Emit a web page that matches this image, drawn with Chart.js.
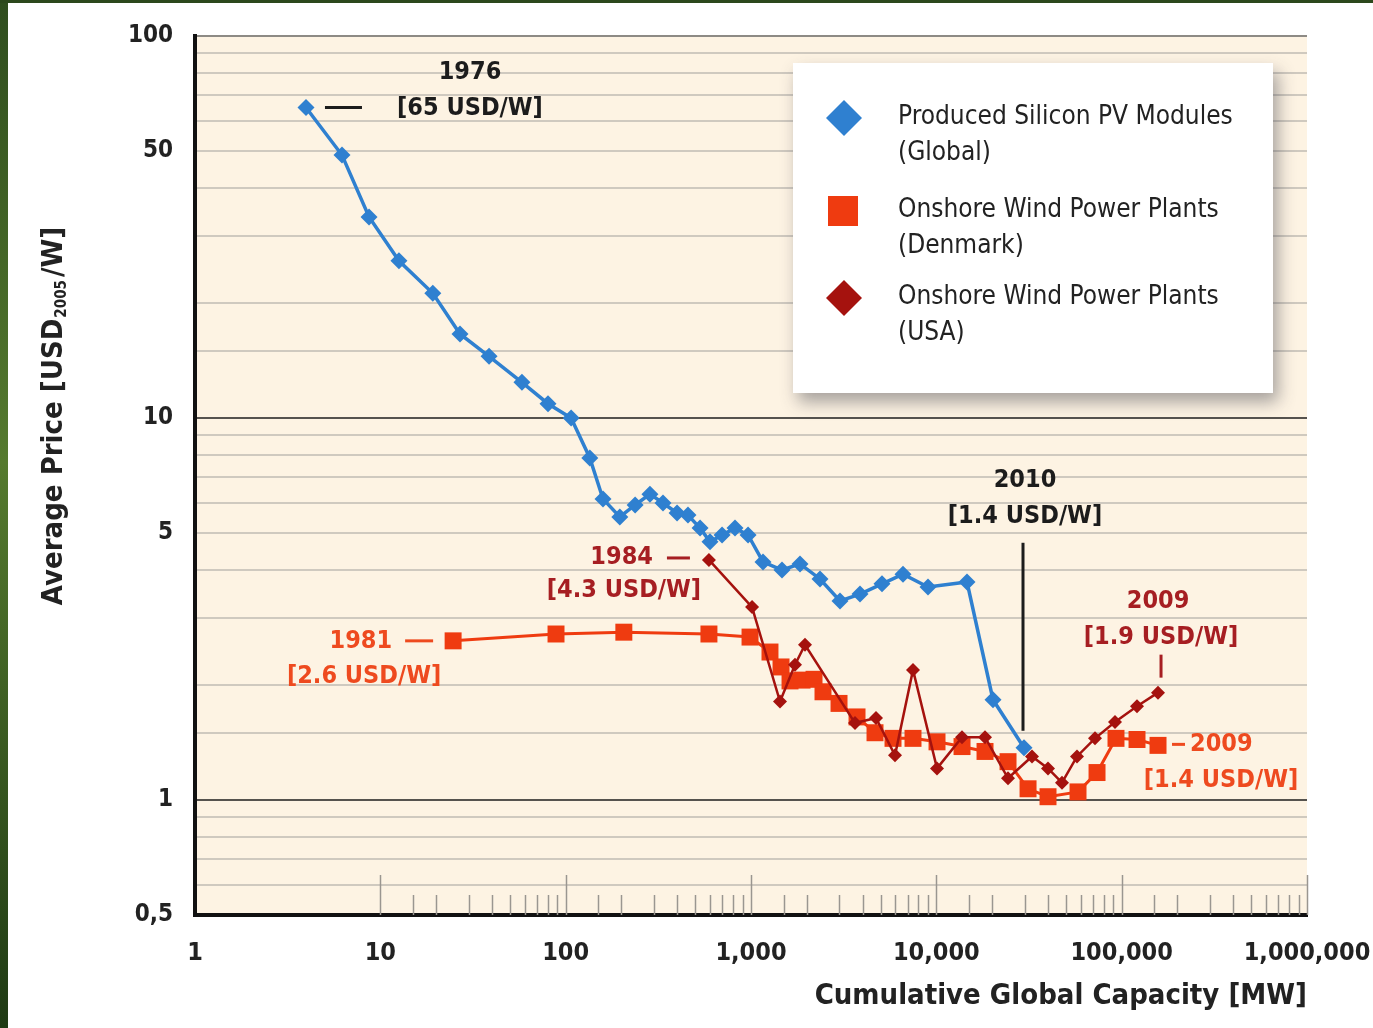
<!DOCTYPE html>
<html>
<head>
<meta charset="utf-8">
<script src="https://cdn.jsdelivr.net/npm/chart.js@4.4.1/dist/chart.umd.min.js"></script>
<style>
  html, body { margin: 0; padding: 0; background: #fff; }
  #wrap { position: relative; width: 1373px; height: 1028px; overflow: hidden; }
  #edgeLeft { position: absolute; left: 0; top: 0; width: 8px; height: 1028px;
              background: linear-gradient(#2f4d1e, #557a2e 45%, #1f3a14); }
  #edgeTop { position: absolute; left: 0; top: 0; width: 1373px; height: 3px; background: #2c481c; }
</style>
</head>
<body>
<div id="wrap">
  <canvas id="learningChart" width="1373" height="1028"></canvas>
  <div id="edgeLeft"></div>
  <div id="edgeTop"></div>
</div>
<script>
// Valeurs (capacité cumulée en MW, prix en USD2005/W)
const pvCapacity = [3.97, 6.21, 8.69, 12.6, 19.2, 26.9, 38.6, 58.1, 80.3, 107, 135, 159, 196, 237, 285, 335, 399, 457,
                    531, 601, 698, 820, 964, 1161, 1470, 1838, 2357, 3022, 3875, 5093, 6610, 9019, 14640, 20220, 29720];
const pvPrice = [65, 48.8, 33.6, 25.8, 21.2, 16.6, 14.5, 12.4, 10.9, 10.0, 7.86, 6.14, 5.51, 5.92, 6.32, 5.99, 5.64, 5.57,
                 5.15, 4.74, 4.94, 5.15, 4.94, 4.20, 4.00, 4.15, 3.79, 3.32, 3.46, 3.68, 3.90, 3.61, 3.72, 1.83, 1.37];

const dkCapacity = [24.7, 88.7, 206, 593, 988, 1266, 1452, 1624, 1885, 2188, 2446, 2985, 3733, 4668, 5838, 7484,
                    10085, 13760, 18310, 24370, 31250, 40050, 58140, 73630, 93200, 121000, 157100];
const dkPrice = [2.61, 2.72, 2.75, 2.72, 2.67, 2.44, 2.23, 2.05, 2.06, 2.07, 1.92, 1.79, 1.65, 1.50, 1.45, 1.45,
                 1.42, 1.38, 1.34, 1.26, 1.07, 1.02, 1.05, 1.18, 1.45, 1.44, 1.39];

const usCapacity = [593, 1013, 1434, 1728, 1956, 3641, 4726, 5984, 7484, 10085, 13760, 18310, 24370, 32830, 40050,
                    47650, 57420, 71800, 92060, 121000, 157100];
const usPrice = [4.25, 3.20, 1.81, 2.26, 2.55, 1.59, 1.64, 1.31, 2.19, 1.21, 1.46, 1.46, 1.14, 1.30, 1.21,
                 1.11, 1.30, 1.45, 1.60, 1.76, 1.91];

const seriesLabels = ['Produced Silicon PV Modules\n(Global)', 'Onshore Wind Power Plants\n(Denmark)', 'Onshore Wind Power Plants\n(USA)'];
const yLabelled = [0.5, 1, 5, 10, 50, 100];
const xTitle = 'Cumulative Global Capacity [MW]';
const yTitle = ['Average Price [USD', '2005', '/W]'];

const FONT = '"DejaVu Sans Condensed", "Liberation Sans Narrow", "DejaVu Sans", sans-serif';
const BLUE = '#2f80d0';
const ORANGE = '#ef3b10';
const DARKRED = '#a5120e';

function toPoints(xs, ys) {
    return xs.map((x, i) => ({ x: x, y: ys[i] }));
}

// Annotations : années et prix aux extrémités des séries
const notes = [
    { ds: 0, pt: 'first', color: '#1c1c1c', lines: [['1976', 164, -35, 'center'], ['[65 USD/W]', 164, 1, 'center']], segs: [[19, 0, 56, 0]] },
    { ds: 2, pt: 'first', color: '#a61e22', lines: [['1984', -56, -2, 'right'], ['[4.3 USD/W]', -85, 31, 'center']], segs: [[-42, -2, -19, -2]] },
    { ds: 1, pt: 'first', color: '#ee4a1f', lines: [['1981', -61, 1, 'right'], ['[2.6 USD/W]', -89, 36, 'center']], segs: [[-48, 0, -20, 0]] },
    { ds: 0, pt: 'last', color: '#1c1c1c', lines: [['2010', 1, -267, 'center'], ['[1.4 USD/W]', 1, -231, 'center']], segs: [[-1, -205, -1, -17]] },
    { ds: 2, pt: 'last', color: '#a61e22', lines: [['2009', 0, -91, 'center'], ['[1.9 USD/W]', 3, -55, 'center']], segs: [[3, -38, 3, -15]] },
    { ds: 1, pt: 'last', color: '#ee4a1f', lines: [['2009', 32, -1, 'left'], ['[1.4 USD/W]', 63, 35, 'center']], segs: [[14, -1, 27, -1]] }
];

const plotBackground = {
    id: 'plotBackground',
    beforeDraw(chart) {
        const a = chart.chartArea;
        const ctx = chart.ctx;
        ctx.save();
        ctx.fillStyle = '#fdf3e3';
        ctx.fillRect(a.left, a.top, a.right - a.left, a.bottom - a.top);
        ctx.restore();
    }
};

// Petits traits verticaux le long de l'axe X (vers l'intérieur)
const xTickMarks = {
    id: 'xTickMarks',
    beforeDatasetsDraw(chart) {
        const scale = chart.scales.x;
        const ctx = chart.ctx;
        const bottom = chart.chartArea.bottom;
        ctx.save();
        ctx.strokeStyle = '#9a9690';
        ctx.lineWidth = 1.5;
        scale.ticks.forEach(t => {
            const e = Math.log10(t.value);
            const isMajor = Math.abs(e - Math.round(e)) < 1e-6;
            if (t.value <= 1.0001) return;
            if (!isMajor && t.value < 10) return;
            const len = isMajor ? 40 : 20;
            const px = Math.round(scale.getPixelForValue(t.value)) + 0.5;
            ctx.beginPath();
            ctx.moveTo(px, bottom);
            ctx.lineTo(px, bottom - len);
            ctx.stroke();
        });
        ctx.restore();
    }
};

const yAxisTitle = {
    id: 'yAxisTitle',
    afterDraw(chart) {
        const ctx = chart.ctx;
        ctx.save();
        ctx.translate(54, 416);
        ctx.rotate(-Math.PI / 2);
        ctx.fillStyle = '#222';
        ctx.textBaseline = 'middle';
        const big = 'bold 29px ' + FONT;
        const small = 'bold 15px ' + FONT;
        ctx.font = big;
        const w1 = ctx.measureText(yTitle[0]).width;
        const w3 = ctx.measureText(yTitle[2]).width;
        ctx.font = small;
        const w2 = ctx.measureText(yTitle[1]).width + 4;
        let x = -(w1 + w2 + w3) / 2;
        ctx.font = big;
        ctx.fillText(yTitle[0], x, 0);
        ctx.font = small;
        ctx.fillText(yTitle[1], x + w1 + 1, 8);
        ctx.font = big;
        ctx.fillText(yTitle[2], x + w1 + w2, 0);
        ctx.restore();
    }
};

const noteLabels = {
    id: 'noteLabels',
    afterDatasetsDraw(chart) {
        const ctx = chart.ctx;
        ctx.save();
        notes.forEach(n => {
            const meta = chart.getDatasetMeta(n.ds);
            const el = n.pt === 'first' ? meta.data[0] : meta.data[meta.data.length - 1];
            const x = el.x, y = el.y;
            ctx.strokeStyle = n.color;
            ctx.lineWidth = 3;
            n.segs.forEach(s => {
                ctx.beginPath();
                ctx.moveTo(x + s[0], y + s[1]);
                ctx.lineTo(x + s[2], y + s[3]);
                ctx.stroke();
            });
            ctx.fillStyle = n.color;
            ctx.font = 'bold 25px ' + FONT;
            ctx.textBaseline = 'middle';
            n.lines.forEach(l => {
                ctx.textAlign = l[3];
                ctx.fillText(l[0], x + l[1], y + l[2]);
            });
        });
        ctx.restore();
    }
};

function drawMarker(ctx, style, x, y, r, color) {
    ctx.fillStyle = color;
    ctx.beginPath();
    if (style === 'rectRot') {
        ctx.moveTo(x, y - r);
        ctx.lineTo(x + r, y);
        ctx.lineTo(x, y + r);
        ctx.lineTo(x - r, y);
        ctx.closePath();
    } else {
        ctx.rect(x - r, y - r, 2 * r, 2 * r);
    }
    ctx.fill();
}

const legendBox = {
    id: 'legendBox',
    afterDraw(chart) {
        const ctx = chart.ctx;
        const bx = 793, by = 63, bw = 480, bh = 330;
        ctx.save();
        ctx.shadowColor = 'rgba(60,60,70,0.45)';
        ctx.shadowBlur = 16;
        ctx.shadowOffsetX = 5;
        ctx.shadowOffsetY = 9;
        ctx.fillStyle = '#ffffff';
        ctx.fillRect(bx, by, bw, bh);
        ctx.restore();

        ctx.save();
        const rows = [117, 210, 297];
        chart.data.datasets.forEach((ds, i) => {
            const cy = rows[i];
            if (ds.pointStyle === 'rect') {
                drawMarker(ctx, 'rect', 843, cy + 1, 15, ds.backgroundColor);
            } else {
                drawMarker(ctx, 'rectRot', 844, cy + 1, 18, ds.backgroundColor);
            }
            ctx.fillStyle = '#222';
            ctx.font = '26px ' + FONT;
            ctx.textBaseline = 'middle';
            ctx.textAlign = 'left';
            ds.label.split('\n').forEach((line, k) => {
                ctx.fillText(line, 898, cy + k * 36);
            });
        });
        ctx.restore();
    }
};

const ctx = document.getElementById('learningChart').getContext('2d');
const chart = new Chart(ctx, {
    type: 'line',
    data: {
        datasets: [
            {
                label: seriesLabels[0],
                data: toPoints(pvCapacity, pvPrice),
                borderColor: BLUE,
                backgroundColor: BLUE,
                borderWidth: 3.5,
                pointStyle: 'rectRot',
                pointRadius: 8.5,
                pointBorderWidth: 0,
                order: 0
            },
            {
                label: seriesLabels[1],
                data: toPoints(dkCapacity, dkPrice),
                borderColor: ORANGE,
                backgroundColor: ORANGE,
                borderWidth: 3,
                pointStyle: 'rect',
                pointRadius: 12,
                pointBorderWidth: 0,
                order: 2
            },
            {
                label: seriesLabels[2],
                data: toPoints(usCapacity, usPrice),
                borderColor: DARKRED,
                backgroundColor: DARKRED,
                borderWidth: 2.5,
                pointStyle: 'rectRot',
                pointRadius: 7,
                pointBorderWidth: 0,
                order: 1
            }
        ]
    },
    options: {
        responsive: false,
        animation: false,
        devicePixelRatio: 1,
        layout: { padding: { left: 0, top: 36, right: 66, bottom: 0 } },
        plugins: {
            legend: { display: false },
            tooltip: { enabled: false }
        },
        elements: { line: { tension: 0 } },
        scales: {
            x: {
                type: 'logarithmic',
                min: 1,
                max: 1000000,
                afterFit(scale) {
                    scale.height = 113;
                    scale.paddingLeft = 0;
                    scale.paddingRight = 0;
                },
                grid: { display: false },
                border: { display: true, color: '#111', width: 4 },
                ticks: {
                    autoSkip: false,
                    maxRotation: 0,
                    padding: 15,
                    color: '#222',
                    font: { family: FONT, size: 25, weight: 'bold' },
                    callback(value) {
                        const e = Math.log10(value);
                        if (Math.abs(e - Math.round(e)) > 1e-6) return '';
                        return Number(value).toLocaleString('en-US');
                    }
                },
                title: {
                    display: true,
                    text: xTitle,
                    align: 'end',
                    color: '#222',
                    padding: { top: 0, bottom: 14 },
                    font: { family: FONT, size: 29, weight: 'bold' }
                }
            },
            y: {
                type: 'logarithmic',
                min: 0.5,
                max: 100,
                afterFit(scale) {
                    scale.width = 195;
                    scale.paddingTop = 0;
                    scale.paddingBottom = 0;
                },
                border: { display: true, color: '#111', width: 4 },
                grid: {
                    drawTicks: false,
                    lineWidth: 2,
                    color(c) {
                        if (!c.tick) return '#cfc9bf';
                        const v = c.tick.value;
                        if (Math.abs(v - 1) < 1e-6 || Math.abs(v - 10) < 1e-6) return '#55524e';
                        if (Math.abs(v - 100) < 1e-6) return '#8d8a85';
                        return '#cfc9bf';
                    }
                },
                ticks: {
                    autoSkip: false,
                    padding: 22,
                    color: '#222',
                    font: { family: FONT, size: 24, weight: 'bold' },
                    callback(value) {
                        const hit = yLabelled.find(v => Math.abs(v - value) < 1e-6);
                        if (hit === undefined) return '';
                        return hit === 0.5 ? '0,5' : String(hit);
                    }
                }
            }
        }
    },
    plugins: [plotBackground, xTickMarks, noteLabels, yAxisTitle, legendBox]
});
</script>
</body>
</html>
